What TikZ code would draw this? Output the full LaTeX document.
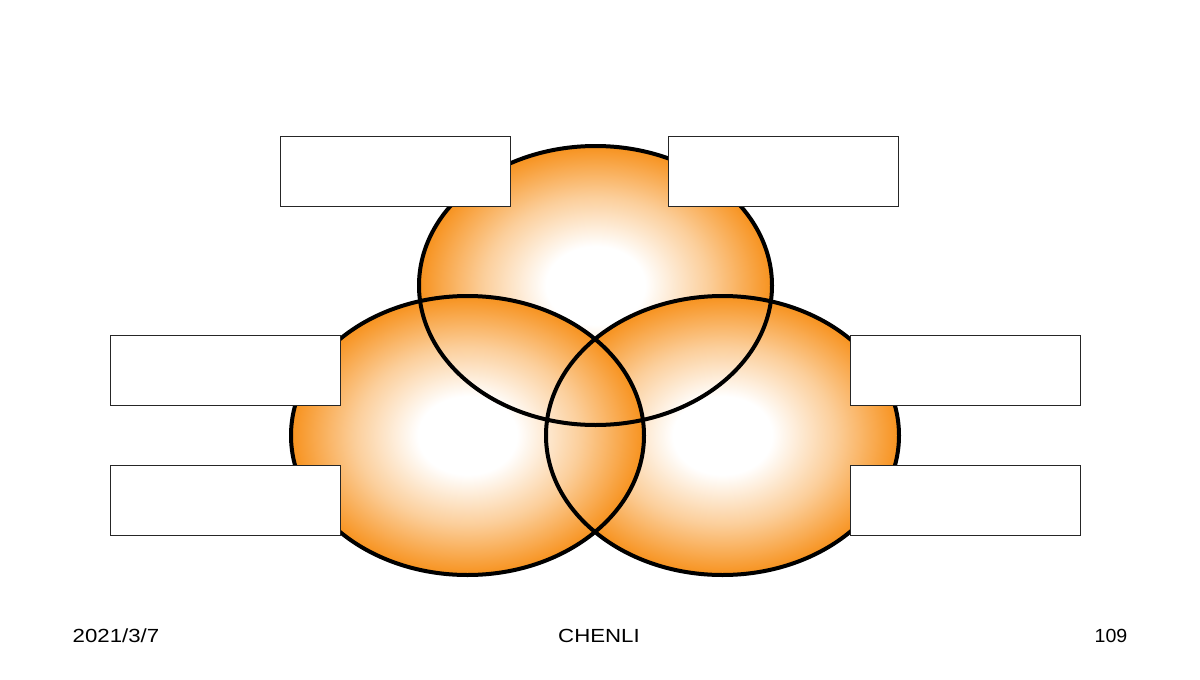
\documentclass[tikz,border=0pt]{standalone}
\usepackage{fontspec}
\setmainfont{Liberation Sans}
\usepackage{graphicx}
\definecolor{orb}{RGB}{247,146,30}
\pgfdeclareradialshading{orbshade}{\pgfpoint{0bp}{0bp}}{color(0bp)=(white); color(7bp)=(white); color(16bp)=(orb!45!white); color(25bp)=(orb); color(50bp)=(orb)}
\tikzset{
  orbfill/.style={shading=orbshade},
  orbline/.style={draw=black, line width=2pt},
  labelbox/.style={draw=black!85, line width=0.5pt, fill=white, minimum width=115pt, minimum height=35pt, inner sep=0pt},
  foot/.style={font=\fontsize{9.5}{11}\selectfont, text=black, inner sep=0pt}
}
\begin{document}
\begin{tikzpicture}[x=0.5pt,y=-0.5pt]
\useasboundingbox[fill=white] (0,0) rectangle (1200,680);
% ellipse centres
\coordinate (ct) at (595.5,285.5);
\coordinate (cl) at (467.5,435.5);
\coordinate (cr) at (722.5,435.5);
% fills: top, right, left
\fill[orbfill] (ct) ellipse [x radius=176.5, y radius=139.5];
\fill[orbfill] (cr) ellipse [x radius=176.5, y radius=139.5];
\fill[orbfill] (cl) ellipse [x radius=176.5, y radius=139.5];
% outlines
\draw[orbline] (ct) ellipse [x radius=176.5, y radius=139.5];
\draw[orbline] (cr) ellipse [x radius=176.5, y radius=139.5];
\draw[orbline] (cl) ellipse [x radius=176.5, y radius=139.5];
% label boxes
\node[labelbox] (b1) at (395,171) {};
\node[labelbox] (b2) at (783,171) {};
\node[labelbox] (b3) at (225,370) {};
\node[labelbox] (b4) at (225,500) {};
\node[labelbox] (b5) at (965,370) {};
\node[labelbox] (b6) at (965,500) {};
% footer
\node[foot] (date) at (116,635.5) {\scalebox{1.17}[1]{2021/3/7}};
\node[foot] (author) at (599,635.5) {\scalebox{1.17}[1]{CHENLI}};
\node[foot] (page) at (1111,635.5) {\scalebox{1.03}[1]{109}};
\end{tikzpicture}
\end{document}
